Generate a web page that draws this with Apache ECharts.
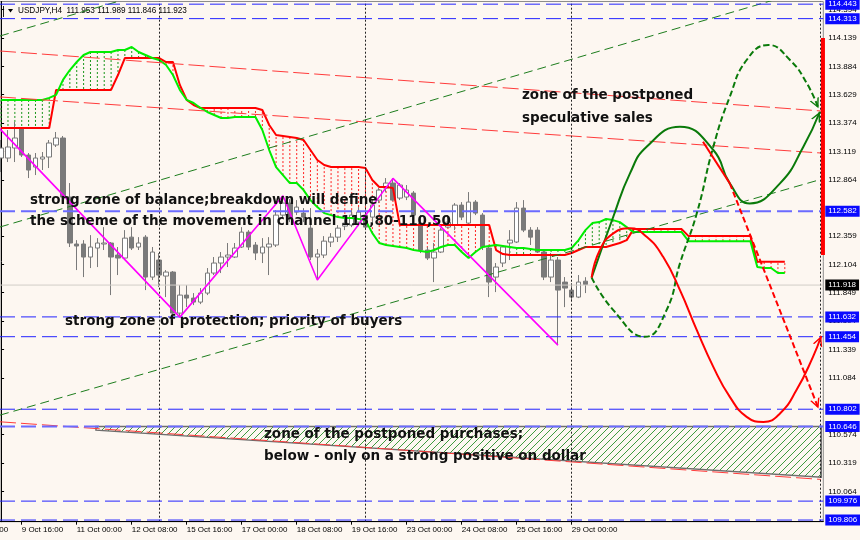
<!DOCTYPE html>
<html><head><meta charset="utf-8">
<script src="https://cdn.jsdelivr.net/npm/echarts@6/dist/echarts.min.js"></script>
<style>html,body{margin:0;padding:0;background:#fdf7f1;}#c{width:860px;height:540px;}</style>
</head><body><div id="c"></div>
<script>
// ---------- DATA ----------
const symbolName = 'USDJPY,H4';
const headerOHLC = ['111.953', '111.989', '111.846', '111.923'];
// H4 candles, bar index 0.. ; each [open, close, low, high]
const ohlc = [
[113.060,113.150,112.934,113.222],[113.060,113.159,113.024,113.312],[113.150,113.240,113.024,113.384],[113.330,113.087,113.069,113.339],
[113.087,112.952,112.880,113.105],[112.979,113.060,112.907,113.105],[113.051,113.069,112.952,113.114],[113.069,113.195,112.970,113.222],
[113.177,113.240,113.159,113.294],[113.240,112.709,112.682,113.258],[112.709,112.296,112.260,112.835],[112.287,112.269,112.053,112.322],
[112.287,112.170,111.990,112.322],[112.170,112.260,112.071,112.367],[112.251,112.296,112.080,112.340],[112.287,112.296,112.233,112.439],
[112.296,112.170,111.828,112.305],[112.188,112.161,112.008,112.260],[112.161,112.340,112.143,112.412],[112.349,112.251,112.233,112.439],
[112.260,112.296,112.233,112.349],[112.349,111.990,111.873,112.367],[111.990,112.215,111.963,112.260],[112.143,112.008,111.900,112.206],
[111.999,112.035,111.810,112.053],[112.035,111.666,111.639,112.044],[111.666,111.828,111.630,111.918],[111.828,111.801,111.720,111.918],
[111.801,111.765,111.738,111.846],[111.765,111.846,111.747,111.891],[111.846,112.026,111.828,112.071],[112.026,112.116,112.008,112.170],
[112.116,112.170,112.026,112.215],[112.170,112.188,112.080,112.296],[112.170,112.251,112.161,112.296],[112.260,112.394,112.251,112.439],
[112.394,112.260,112.233,112.412],[112.278,112.206,112.143,112.305],[112.206,112.260,112.116,112.340],[112.260,112.287,112.008,112.349],
[112.278,112.547,112.260,112.592],[112.547,112.655,112.529,112.718],[112.655,112.520,112.484,112.691],[112.574,112.619,112.547,112.682],
[112.565,112.529,112.484,112.610],[112.430,112.170,112.143,112.610],[112.170,112.197,111.963,112.242],[112.188,112.313,112.161,112.358],
[112.305,112.349,112.260,112.385],[112.349,112.430,112.305,112.457],[112.448,112.475,112.412,112.547],[112.457,112.547,112.439,112.592],
[112.484,112.574,112.448,112.619],[112.547,112.439,112.412,112.592],[112.529,112.637,112.484,112.682],[112.682,112.772,112.655,112.790],
[112.790,112.835,112.754,112.880],[112.835,112.682,112.673,112.880],[112.700,112.817,112.682,112.835],[112.709,112.772,112.682,112.817],
[112.745,112.547,112.538,112.763],[112.475,112.233,112.206,112.547],[112.233,112.161,112.143,112.260],[112.161,112.215,111.945,112.296],
[112.215,112.412,112.206,112.430],[112.439,112.484,112.430,112.547],[112.457,112.637,112.412,112.655],[112.637,112.529,112.502,112.664],
[112.475,112.664,112.457,112.754],[112.664,112.565,112.547,112.682],[112.547,112.260,112.233,112.565],[112.251,111.945,111.810,112.260],
[111.990,112.080,111.855,112.116],[112.116,112.260,112.080,112.278],[112.296,112.322,112.143,112.412],[112.305,112.610,112.296,112.664],
[112.610,112.412,112.394,112.682],[112.412,112.349,112.278,112.439],[112.412,112.215,112.206,112.439],[112.215,111.990,111.963,112.233],
[111.990,112.143,111.945,112.206],[112.143,111.873,111.378,112.170],[111.945,111.891,111.720,111.990],[111.873,111.810,111.783,111.936],
[111.810,111.945,111.801,112.008],[111.953,111.923,111.846,111.989]
];
// Ichimoku cloud spans per bar index 0..114
const spanA = [113.582,113.582,113.582,113.582,113.582,113.582,113.582,113.600,113.627,113.762,113.851,113.923,113.986,114.013,114.013,114.013,114.013,114.031,114.031,114.058,
114.013,113.986,113.959,113.941,113.896,113.806,113.672,113.582,113.555,113.510,113.474,113.447,113.420,113.420,113.429,113.429,113.429,113.429,113.312,113.132,
112.979,112.907,112.835,112.835,112.772,112.682,112.619,112.565,112.547,112.529,112.520,112.520,112.512,112.502,112.385,112.296,112.278,112.269,112.260,112.251,
112.233,112.224,112.215,112.233,112.260,112.278,112.278,112.215,112.161,112.215,112.260,112.269,112.278,112.269,112.260,112.251,112.251,112.242,112.233,112.233,
112.233,112.233,112.233,112.251,112.322,112.412,112.475,112.484,112.512,112.502,112.484,112.439,112.394,112.394,112.394,112.394,112.394,112.394,112.394,112.394,
112.313,112.313,112.313,112.313,112.313,112.313,112.313,112.313,112.313,112.313,112.080,112.071,112.071,112.026,112.026];
const spanB = [113.330,113.330,113.330,113.330,113.330,113.330,113.330,113.330,113.672,113.672,113.672,113.672,113.672,113.672,113.672,113.672,113.672,113.806,113.959,113.959,
113.959,113.959,113.959,113.959,113.923,113.923,113.717,113.582,113.537,113.510,113.510,113.510,113.510,113.510,113.510,113.510,113.510,113.510,113.492,113.357,
113.267,113.258,113.249,113.240,113.222,113.132,113.042,112.997,112.979,112.979,112.979,112.979,112.979,112.970,112.862,112.799,112.799,112.790,112.457,112.457,
112.457,112.457,112.457,112.457,112.457,112.457,112.457,112.457,112.457,112.457,112.457,112.457,112.233,112.197,112.188,112.188,112.188,112.188,112.188,112.188,
112.188,112.188,112.188,112.206,112.233,112.260,112.260,112.260,112.260,112.278,112.296,112.322,112.421,112.421,112.421,112.421,112.421,112.421,112.421,112.421,
112.358,112.358,112.358,112.358,112.358,112.358,112.358,112.358,112.358,112.358,112.128,112.128,112.128,112.128,112.128];
// ZigZag pivots [bar, price]
const zigzag = [[-1,113.375],[26,111.630],[41,112.721],[46,111.963],[57,112.877],[81,111.378]];
// trend / channel lines [[bar, price],[bar, price]]
const greenChannel = [
  [[-0.16,114.157],[17.73,114.481]],
  [[-0.16,112.440],[112.42,114.481]],
  [[-0.16,110.749],[119.26,112.868]]
];
const redChannel = [
  [[-0.16,114.022],[119.26,113.483]],
  [[-0.16,113.609],[119.26,113.105]],
  [[-0.16,110.689],[119.26,110.171]]
];
// forecast paths [bar, price]
const fcGreenSolid = [[85.9,111.985],[89.05,112.532],[91.48,112.922],[93.9,113.161],[98.75,113.341],[103.6,113.132],[106.0,112.832],[108.9,112.652],[113.3,112.832],[116.7,113.161],[119.1,113.476]];
const fcGreenDashed = [[85.9,111.985],[89.05,111.693],[93.66,111.453],[96.8,111.693],[98.75,112.113],[101.2,112.563],[103.6,113.161],[106.0,113.611],[108.45,113.941],[111.6,114.076],[114.75,113.941],[117.2,113.732],[118.9,113.507]];
const fcRedSolid = [[85.9,111.985],[87.1,112.233],[89.05,112.383],[91.48,112.428],[93.9,112.352],[96.3,112.172],[98.75,111.873],[101.2,111.513],[103.6,111.183],[106.0,110.913],[108.45,110.733],[110.9,110.688],[113.3,110.764],[115.7,110.974],[118.1,111.273],[119.3,111.46]];
const fcRedDashedHead = [[102.1,113.206],[106.0,112.832]];
const fcRedDashed = [[106.0,112.832],[118.9,110.809]];
// zone of postponed purchases polygon
const purchaseZone = [[13.8,110.646],[119.3,110.646],[119.3,110.191],[13.8,110.614]];
// red range bar at right
const rangeBar = [[119.55,114.139],[119.55,112.188]];
// horizontal levels
const blueLevels = [114.443, 114.313, 112.582, 111.632, 111.454, 110.802, 110.646, 109.976, 109.806];
const currentPrice = 111.918;
// period separators (bar index)
const separators = [23, 53, 83, 119.2];
// axis ticks (bar index of each time label)
const timeTickIdx = [-5, 3, 11, 19, 27, 35, 43, 51, 59, 67, 75, 83];
const timeTickLabels = ['8 Oct 08:00','9 Oct 16:00','11 Oct 00:00','12 Oct 08:00','15 Oct 16:00','17 Oct 00:00','18 Oct 08:00','19 Oct 16:00','23 Oct 00:00','24 Oct 08:00','25 Oct 16:00','29 Oct 00:00'];
const priceTicks = [114.394,114.139,113.884,113.629,113.374,113.119,112.864,112.359,112.104,111.849,111.594,111.339,111.084,110.574,110.319,110.064];
// annotations
const notes = [
  'strong zone of balance;breakdown will define',
  'the scheme of the movement in channel 113,80-110,50',
  'strong zone of protection; priority of buyers',
  'zone of the postponed',
  'speculative sales',
  'zone of the postponed purchases;',
  'below - only on a strong positive on dollar'
];

// ---------- CHART ----------
const FONT = '"Liberation Sans", Arial, sans-serif';
const NOTE_FONT = 'bold 13.5px "DejaVu Sans", sans-serif';
const X_MIN = -0.16, X_MAX = 119.6;
const chart = echarts.init(document.getElementById('c'));

const hatch = (() => {
  const c = document.createElement('canvas'); c.width = 7; c.height = 7;
  const g = c.getContext('2d'); g.strokeStyle = '#3f9a3f'; g.lineWidth = 1;
  g.beginPath(); g.moveTo(-1, 8); g.lineTo(8, -1); g.moveTo(-2, 2); g.lineTo(2, -2); g.moveTo(5, 9); g.lineTo(9, 5); g.stroke();
  return c;
})();

const ARROW = 'path://M5,-10L5.01,-10M0,10L5,0L10,10L8.4,10L5,3.2L1.6,10Z';
function arrowLine(pts, color) {
  const n = pts.length;
  return {
    silent: true, animation: false,
    symbol: ['none', ARROW], symbolSize: [10, 20],
    lineStyle: { color: color, width: 0, opacity: 1 },
    label: { show: false },
    data: [[{ coord: pts[n - 2] }, { coord: pts[n - 1] }]]
  };
}

const lineSeries = (data, color, width, type, z, smooth) => ({
  type: 'line', data: data, symbol: 'none', smooth: smooth || false, z: z, silent: true,
  lineStyle: { color: color, width: width, type: type }
});

// a horizontal price level drawn as a 2-point line with a price tag at its right end
function levelSeries(v, color, width, type, tagBg) {
  return {
    type: 'line', silent: true, z: 5, clip: false, symbol: 'none',
    data: [[X_MIN, v], [X_MAX, v]],
    lineStyle: { color: color, width: width, type: type, opacity: 1 },
    endLabel: { show: true, formatter: () => v.toFixed(3), distance: 2, color: '#fff', backgroundColor: tagBg,
      padding: [1, 3, 0, 3], fontSize: 8, fontFamily: FONT, lineHeight: 10 }
  };
}

const series = [];
series.push({
  type: 'custom', z: 1, silent: true, clip: true,
  data: spanA.map((a, i) => [i, a, spanB[i]]),
  renderItem: (params, api) => {
    const i = api.value(0), a = api.value(1), b = api.value(2);
    const p1 = api.coord([i, a]), p2 = api.coord([i, b]);
    return { type: 'line', shape: { x1: p1[0], y1: p1[1], x2: p2[0], y2: p2[1] },
      style: { stroke: a > b ? '#1a961a' : '#ff2020', lineWidth: 1, lineDash: [2, 2] } };
  }
});
series.push({
  type: 'custom', z: 2, silent: true, clip: true,
  data: [0],
  renderItem: (params, api) => ({
    type: 'polygon',
    shape: { points: purchaseZone.map(p => api.coord(p)) },
    style: { fill: { image: hatch, repeat: 'repeat' }, stroke: '#6e6e6e', lineWidth: 1.5 }
  })
});
// levels (drawn before candles so the candles sit on top)
series.push(levelSeries(currentPrice, '#d2cdc7', 1, 'solid', '#000'));
blueLevels.forEach(v => {
  const light = (v === 112.582 || v === 110.646);
  series.push(levelSeries(v, light ? '#6b6bff' : '#2323ff', light ? 2 : 1, [15, 6], '#0a0aff'));
});
series.push({
  type: 'candlestick', z: 3, silent: true, barWidth: 5,
  data: ohlc.map((c, i) => [i, c[0], c[1], c[2], c[3]]),
  encode: { x: 0, y: [1, 2, 3, 4] },
  itemStyle: { color: '#ffffff', color0: '#7a7a7a', borderColor: '#7a7a7a', borderColor0: '#7a7a7a', borderWidth: 1 }
});
series.push(lineSeries(spanB.map((v, i) => [i, v]), '#ff0000', 2, 'solid', 4));
series.push(lineSeries(spanA.map((v, i) => [i, v]), '#00ee00', 2, 'solid', 4));
greenChannel.forEach(l => series.push(lineSeries(l, '#1d7d1d', 1, [9, 5], 4)));
redChannel.forEach(l => series.push(lineSeries(l, '#ff3b3b', 1, [16, 5], 4)));
series.push(lineSeries(zigzag, '#ff00ff', 1.6, 'solid', 5));
const s1 = lineSeries(fcGreenSolid, '#0a7a0a', 2, 'solid', 6, 0.5); s1.markLine = arrowLine(fcGreenSolid, '#0a7a0a'); series.push(s1);
const s2 = lineSeries(fcGreenDashed, '#0a7a0a', 2, [6, 3], 6, 0.5); s2.markLine = arrowLine(fcGreenDashed, '#0a7a0a'); series.push(s2);
const s3 = lineSeries(fcRedSolid, '#ff0000', 2, 'solid', 6, 0.5); s3.markLine = arrowLine(fcRedSolid, '#ff0000'); series.push(s3);
series.push(lineSeries(fcRedDashedHead, '#ff0000', 2, 'solid', 6));
const s4 = lineSeries(fcRedDashed, '#ff0000', 2, [6, 3], 6); s4.markLine = arrowLine(fcRedDashed, '#ff0000'); series.push(s4);
const rb = lineSeries(rangeBar, '#ff0000', 4, 'solid', 7); rb.clip = false; series.push(rb);
series.push({ type: 'line', data: [], z: 5, silent: true,
  markLine: { silent: true, symbol: 'none', animation: false,
    lineStyle: { color: '#222', width: 1, type: [2, 2] }, label: { show: false },
    data: separators.map(x => ({ xAxis: x })) } });

const noteStyle = (t, x, y) => ({ type: 'text', x: x, y: y, z: 100, silent: true,
  style: { text: t, font: NOTE_FONT, fill: '#111', verticalAlign: 'middle', align: 'left' } });

const graphics = [
  { type: 'rect', shape: { x: 3, y: 6, width: 1, height: 11 }, style: { fill: '#222' }, silent: true },
  { type: 'polygon', shape: { points: [[8, 9], [13, 9], [10.5, 12.5]] }, style: { fill: '#000' }, silent: true },
  { type: 'text', x: 18, y: 11, silent: true, style: { text: symbolName + '  ' + headerOHLC.join(' '), font: '8.2px ' + FONT, fill: '#000', verticalAlign: 'middle' } },
  noteStyle(notes[0], 30, 200),
  noteStyle(notes[1], 30, 221),
  noteStyle(notes[2], 65, 321),
  noteStyle(notes[3], 522, 95),
  noteStyle(notes[4], 522, 118),
  noteStyle(notes[5], 264, 434),
  noteStyle(notes[6], 264, 456)
];

const option = {
  animation: false,
  backgroundColor: '#fdf7f1',
  grid: { left: 0, right: 36.7, top: 1.5, bottom: 18.3, show: true, borderColor: '#8c8c8c', borderWidth: 1, backgroundColor: 'transparent' },
  xAxis: {
    type: 'value', min: X_MIN, max: X_MAX,
    axisLine: { show: true, onZero: false, lineStyle: { color: '#000', width: 1 } },
    splitLine: { show: false },
    axisTick: { show: true, customValues: timeTickIdx, length: 3, lineStyle: { color: '#000' } },
    axisLabel: { show: true, customValues: timeTickIdx, align: 'left', margin: 4, color: '#000', fontSize: 8, fontFamily: FONT,
      formatter: v => { const k = timeTickIdx.indexOf(Math.round(v)); return k >= 0 ? timeTickLabels[k] : ''; } }
  },
  yAxis: {
    type: 'value', position: 'right', min: 109.791, max: 114.467, scale: true,
    axisLine: { show: true, lineStyle: { color: '#000', width: 1 } },
    splitLine: { show: false },
    axisTick: { show: true, customValues: priceTicks, length: 3, lineStyle: { color: '#000' } },
    axisLabel: { show: true, customValues: priceTicks, margin: 5, color: '#000', fontSize: 8, fontFamily: FONT,
      formatter: v => Number(v).toFixed(3) }
  },
  graphic: graphics,
  series: series
};
chart.setOption(option);

// time labels whose tick lies left of the visible range are partly cut by the window edge
const cut = [];
timeTickIdx.forEach((t, k) => {
  if (t < X_MIN) {
    const p = chart.convertToPixel({ gridIndex: 0 }, [t, 109.791]);
    cut.push({ type: 'text', x: p[0], y: p[1] + 4, silent: true,
      style: { text: timeTickLabels[k], font: '8px ' + FONT, fill: '#000', verticalAlign: 'top', align: 'left' } });
  }
});
if (cut.length) chart.setOption({ graphic: graphics.concat(cut) });
</script>
</body></html>
